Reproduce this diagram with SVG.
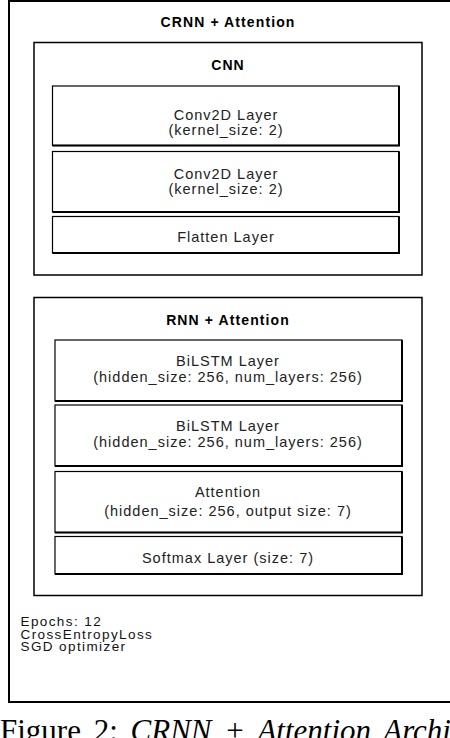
<svg xmlns="http://www.w3.org/2000/svg" width="450" height="738" viewBox="0 0 450 738">
<style>
.frame{fill:#fff;stroke:#000;stroke-width:2}
.box{fill:#fff;stroke:#000;stroke-width:1.5}
.layer{fill:#fff;stroke:#000;stroke-width:1.2}
.edge{fill:none;stroke:#000;stroke-width:2}
.title{font-family:"Liberation Sans",Arial,sans-serif;font-weight:bold;font-size:14px;letter-spacing:1.1px;text-anchor:middle;fill:#000}
.t{font-family:"Liberation Sans",Arial,sans-serif;font-size:14.5px;letter-spacing:1px;text-anchor:middle;fill:#222}
.note{font-family:"Liberation Sans",Arial,sans-serif;font-size:13.5px;letter-spacing:1.4px;fill:#111}
.cap{font-family:"Liberation Serif","Times New Roman",serif;font-size:31px;fill:#000}
</style>
<rect width="450" height="738" fill="#fff"/>
<g id="crnn">
<rect class="frame" x="9" y="1" width="460" height="701"/>
<text class="title" x="228" y="27">CRNN + Attention</text>
</g>
<g id="cnn">
<rect class="box" x="34" y="42.5" width="388" height="232.5"/>
<text class="title" x="228" y="70">CNN</text>
</g>
<g id="conv1">
<rect class="layer" x="52.5" y="86" width="346.5" height="59.5"/>
<path class="edge" d="M399 86V145.5H52.5"/>
<text class="t" x="226" y="119.5">Conv2D Layer</text>
<text class="t" x="226" y="134.5">(kernel_size: 2)</text>
</g>
<g id="conv2">
<rect class="layer" x="52.5" y="151.5" width="346.5" height="60.5"/>
<path class="edge" d="M399 151.5V212H52.5"/>
<text class="t" x="226" y="178.5">Conv2D Layer</text>
<text class="t" x="226" y="193.5">(kernel_size: 2)</text>
</g>
<g id="flatten">
<rect class="layer" x="52.5" y="216.5" width="346.5" height="36.5"/>
<path class="edge" d="M399 216.5V253H52.5"/>
<text class="t" x="226" y="241.5">Flatten Layer</text>
</g>
<g id="rnn">
<rect class="box" x="34" y="297.5" width="388" height="298"/>
<text class="title" x="228" y="325">RNN + Attention</text>
</g>
<g id="bilstm1">
<rect class="layer" x="55" y="340" width="347" height="61"/>
<path class="edge" d="M402 340V401H55"/>
<text class="t" x="228" y="366">BiLSTM Layer</text>
<text class="t" x="228" y="381.5">(hidden_size: 256, num_layers: 256)</text>
</g>
<g id="bilstm2">
<rect class="layer" x="55" y="405" width="347" height="61"/>
<path class="edge" d="M402 405V466H55"/>
<text class="t" x="228" y="431">BiLSTM Layer</text>
<text class="t" x="228" y="447">(hidden_size: 256, num_layers: 256)</text>
</g>
<g id="attention">
<rect class="layer" x="55" y="471.5" width="347" height="61"/>
<path class="edge" d="M402 471.5V532.5H55"/>
<text class="t" x="228" y="496.5">Attention</text>
<text class="t" x="228" y="516">(hidden_size: 256, output size: 7)</text>
</g>
<g id="softmax">
<rect class="layer" x="55" y="536.5" width="347" height="37.5"/>
<path class="edge" d="M402 536.5V574H55"/>
<text class="t" x="228" y="563">Softmax Layer (size: 7)</text>
</g>
<g id="connectors"></g>
<g id="notes">
<text class="note" x="20.5" y="625.5">Epochs: 12</text>
<text class="note" x="20.5" y="638.5">CrossEntropyLoss</text>
<text class="note" x="20.5" y="651">SGD optimizer</text>
</g>
<text class="cap" x="0" y="741" word-spacing="5">Figure 2: <tspan font-style="italic">CRNN + Attention Architecture</tspan></text>
</svg>
